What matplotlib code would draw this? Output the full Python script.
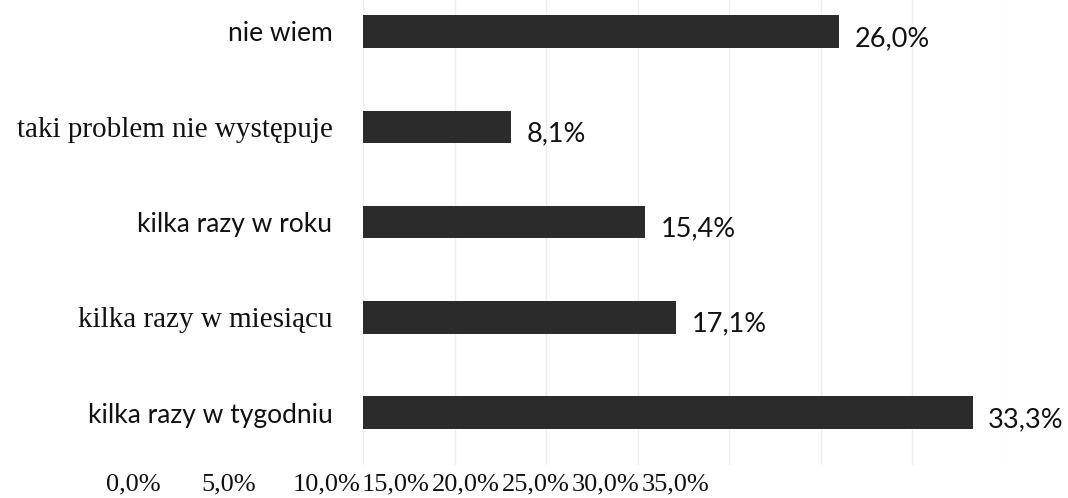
import numpy as np
import matplotlib.pyplot as plt

# --- data ---
categories = ['kilka razy w tygodniu', 'kilka razy w miesiącu', 'kilka razy w roku',
              'taki problem nie występuje', 'nie wiem']
values = [33.3, 17.1, 15.4, 8.1, 26.0]
tick_values = [0, 5, 10, 15, 20, 25, 30, 35]
tick_labels = ['0,0%', '5,0%', '10,0%', '15,0%', '20,0%', '25,0%', '30,0%', '35,0%']

# which labels were printed in a serif face in the source
serif_labels = {'kilka razy w miesiącu', 'taki problem nie występuje'}

SANS = ['Lato', 'DejaVu Sans']
SERIF = ['Liberation Serif', 'DejaVu Serif']
BAR_COLOR = '#2b2b2b'

fig = plt.figure(figsize=(10.68, 4.98), dpi=100)
ax = fig.add_axes([363 / 1068, 1 - 465 / 498, (1004 - 363) / 1068, 465 / 498])

y = np.arange(len(categories))
ax.barh(y, values, height=0.34, color=BAR_COLOR, zorder=2)

ax.set_xlim(0, 35)
ax.set_ylim(-0.55, 4.33)
ax.set_xticks(tick_values)
ax.xaxis.grid(True, color='#eeeeee', linewidth=1.0, zorder=0)
ax.tick_params(axis='x', length=0, labelbottom=False)
ax.tick_params(axis='y', length=0, pad=22)
for s in ax.spines.values():
    s.set_visible(False)

ax.set_yticks(y)
ax.set_yticklabels(categories)
for lab in ax.get_yticklabels():
    if lab.get_text() in serif_labels:
        lab.set_family(SERIF)
        lab.set_fontsize(21)
    else:
        lab.set_family(SANS)
        lab.set_fontsize(19)
    lab.set_color('#111111')

# value labels
for yi, v in zip(y, values):
    ax.annotate(f'{v:.1f}%'.replace('.', ','), xy=(v, yi), xytext=(11, -5),
                textcoords='offset points', ha='left', va='center',
                fontsize=19.5, family=SANS, color='#111111', annotation_clip=False)

# the x tick labels in the source sit on their own row, shifted left of the grid
label_x = [133, 229, 327, 396, 466, 536, 606, 676]
for lx, t in zip(label_x, tick_labels):
    fig.text(lx / 1068, 1 - 484 / 498, t, ha='center', va='center',
             fontsize=19, family=SERIF, color='#111111')

fig.savefig('out.png', dpi=100)
